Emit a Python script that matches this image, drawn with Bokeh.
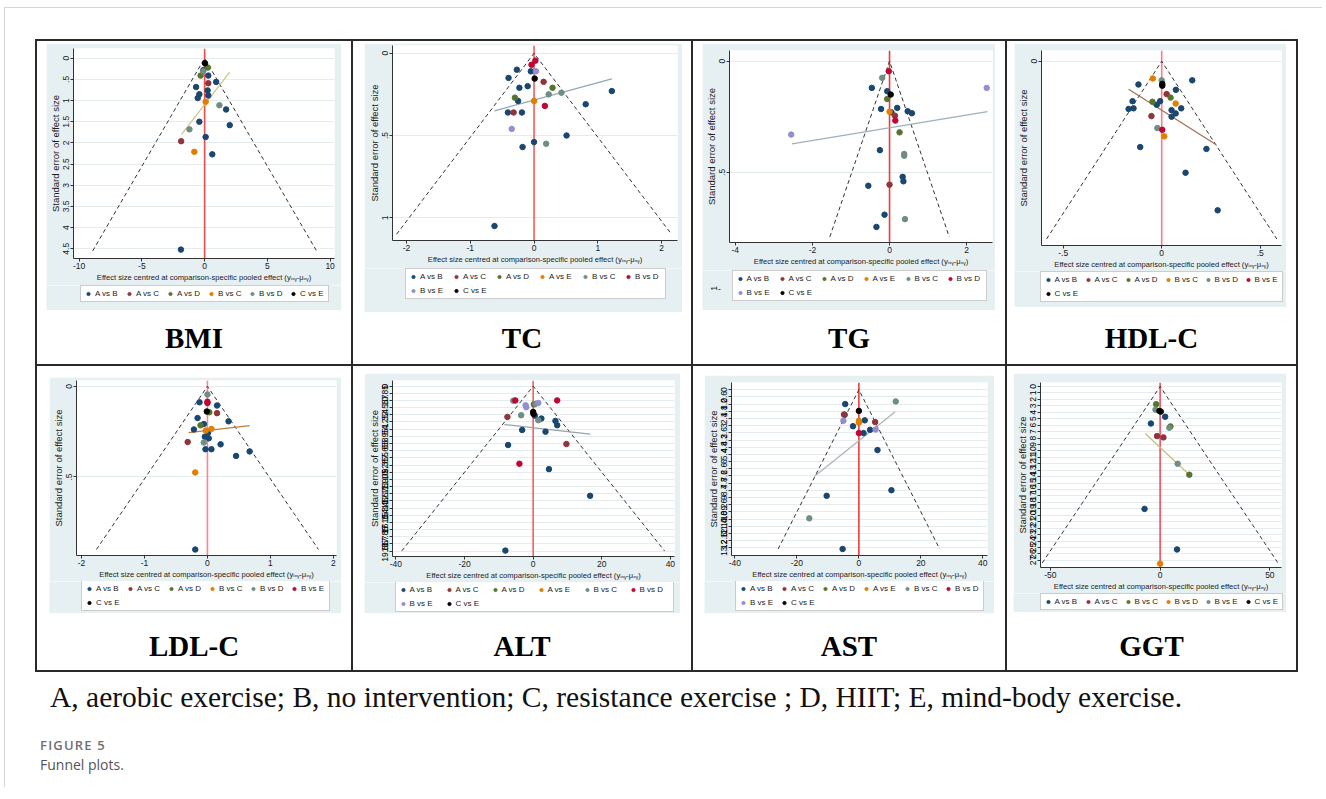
import math
from bokeh.plotting import figure
from bokeh.models import (Range1d, FixedTicker, Span, Legend, LegendItem, Label,
                          Div, Spacer)
from bokeh.layouts import row, column
from bokeh.embed import file_html
from bokeh.resources import INLINE

# ---------------------------------------------------------------- data
CMP6_BMI = ["A vs B", "A vs C", "A vs D", "B vs C", "B vs D", "C vs E"]
CMP8 = ["A vs B", "A vs C", "A vs D", "A vs E", "B vs C", "B vs D", "B vs E", "C vs E"]
CMP7 = ["A vs B", "A vs C", "A vs D", "B vs C", "B vs D", "B vs E", "C vs E"]
CMP6_GGT = ["A vs B", "A vs C", "B vs C", "B vs D", "B vs E", "C vs E"]

BMI_x = [0.03, 0.26, -0.13, -0.10, -0.32, 0.29, 0.92, 0.29, -0.68, 0.24, -0.42, 0.29,
         -0.55, 0.08, 1.18, 1.71, -0.42, -1.21, 2.00, 0.08, -1.87, -0.82, 0.61, -1.89]
BMI_se = [0.12, 0.22, 0.31, 0.28, 0.41, 0.41, 0.56, 0.59, 0.68, 0.76, 0.85, 0.88,
          0.94, 1.03, 1.11, 1.21, 1.50, 1.68, 1.58, 1.86, 1.96, 2.21, 2.27, 4.52]
BMI_cmp = ["C vs E", "A vs D", "B vs D", "A vs B", "A vs D", "A vs B", "A vs B", "A vs C",
           "A vs B", "A vs B", "A vs B", "A vs B", "A vs B", "B vs C", "B vs D", "A vs B",
           "A vs B", "B vs D", "A vs B", "A vs B", "A vs C", "B vs C", "A vs B", "A vs B"]
BMI_fit_x = [-1.84, 2.00]
BMI_fit_se = [1.80, 0.33]
BMI_se_max = 4.55
BMI_xticks = [-10, -5, 0, 5, 10]
BMI_xlabels = ["-10", "-5", "0", "5", "10"]
BMI_yticks = [0, 0.5, 1, 1.5, 2, 2.5, 3, 3.5, 4, 4.5]
BMI_ylabels = ["0", ".5", "1", "1.5", "2", "2.5", "3", "3.5", "4", "4.5"]

TC_x = [0.02, -0.04, 0.03, -0.27, -0.05, -0.40, 0.01, 0.15, -0.23, -0.10, 0.29, 1.22,
        0.43, 0.23, -0.30, -0.25, 0.00, 0.81, 0.17, -0.41, -0.32, -0.19, -0.35, 0.51,
        0.00, 0.19, -0.18, -0.62]
TC_se = [0.045, 0.07, 0.11, 0.10, 0.11, 0.15, 0.154, 0.174, 0.21, 0.20, 0.21, 0.23,
         0.24, 0.25, 0.27, 0.29, 0.29, 0.31, 0.32, 0.36, 0.36, 0.36, 0.46, 0.50,
         0.54, 0.55, 0.57, 1.05]
TC_cmp = ["B vs D", "B vs D", "B vs E", "A vs B", "A vs B", "A vs B", "C vs E", "A vs C",
          "A vs B", "A vs B", "A vs D", "A vs B", "B vs C", "B vs C", "A vs D", "A vs B",
          "A vs E", "A vs B", "B vs D", "A vs B", "A vs C", "A vs B", "B vs E", "A vs B",
          "A vs B", "B vs C", "A vs B", "A vs B"]
TC_fit_x = [-0.62, 1.22]
TC_fit_se = [0.35, 0.156]
TC_se_max = 1.10
TC_xticks = [-2, -1, 0, 1, 2]
TC_xlabels = ["-2", "-1", "0", "1", "2"]
TC_yticks = [0, 0.5, 1]
TC_ylabels = ["0", ".5", "1"]

TG_x = [-0.02, -0.19, 2.52, -0.46, -0.06, 0.03, -0.06, -0.22, 0.00, 0.20, 0.05, 0.47,
        0.58, 0.14, 0.15, -2.55, 0.26, -0.25, 0.38, 0.38, 0.34, 0.36, -0.55, 0.00,
        -0.13, 0.40, -0.34]
TG_se = [0.045, 0.075, 0.12, 0.12, 0.135, 0.15, 0.17, 0.215, 0.227, 0.21, 0.23, 0.225,
         0.234, 0.245, 0.267, 0.33, 0.32, 0.40, 0.417, 0.425, 0.52, 0.54, 0.56, 0.555,
         0.69, 0.71, 0.745]
TG_cmp = ["B vs D", "B vs C", "B vs E", "A vs B", "A vs B", "C vs E", "A vs D", "A vs B",
          "A vs E", "A vs B", "A vs B", "A vs B", "A vs B", "A vs C", "B vs D", "B vs E",
          "A vs D", "A vs B", "B vs C", "B vs C", "A vs B", "A vs B", "A vs B", "A vs C",
          "A vs B", "B vs C", "A vs B"]
TG_fit_x = [-2.53, 2.54]
TG_fit_se = [0.372, 0.227]
TG_se_max = 0.79
TG_xticks = [-4, -2, 0, 2]
TG_xlabels = ["-4", "-2", "0", "2"]
TG_yticks = [0, 0.5]
TG_ylabels = ["0", ".5"]

HDL_x = [-0.045, 0.000, 0.155, -0.118, 0.003, 0.003, 0.072, 0.025, 0.045, -0.148,
         -0.047, -0.008, -0.025, 0.071, -0.168, -0.143, 0.050, 0.099, 0.071, 0.050,
         -0.052, -0.022, 0.003, 0.013, -0.109, 0.227, 0.121, 0.284]
HDL_se = [0.029, 0.032, 0.032, 0.039, 0.038, 0.041, 0.048, 0.055, 0.061, 0.067,
          0.068, 0.067, 0.073, 0.071, 0.080, 0.079, 0.082, 0.079, 0.0875, 0.093,
          0.092, 0.112, 0.115, 0.126, 0.144, 0.147, 0.187, 0.250]
HDL_cmp = ["B vs C", "B vs D", "A vs B", "A vs B", "C vs E", "C vs E", "A vs B", "A vs C",
           "A vs D", "A vs B", "A vs D", "A vs B", "A vs B", "B vs C", "A vs B", "A vs B",
           "A vs B", "A vs B", "A vs B", "A vs B", "A vs C", "B vs D", "B vs E", "B vs C",
           "A vs B", "A vs B", "A vs B", "A vs B"]
HDL_fit_x = [-0.168, 0.277]
HDL_fit_se = [0.047, 0.140]
HDL_se_max = 0.298
HDL_xticks = [-0.5, 0, 0.5]
HDL_xlabels = ["-.5", "0", ".5"]
HDL_yticks = [0]
HDL_ylabels = ["0"]

LDL_x = [0.000, -0.126, 0.000, 0.000, 0.152, -0.010, 0.030, 0.152, -0.157, 0.335,
         -0.058, -0.110, -0.215, 0.063, -0.026, 0.010, -0.042, 0.021, -0.314, -0.058,
         0.209, -0.031, 0.063, 0.455, 0.670, -0.194, -0.194]
LDL_se = [0.045, 0.088, 0.085, 0.092, 0.106, 0.139, 0.143, 0.148, 0.175, 0.193,
          0.208, 0.215, 0.238, 0.235, 0.244, 0.256, 0.278, 0.287, 0.307, 0.310,
          0.320, 0.347, 0.347, 0.384, 0.359, 0.475, 0.900]
LDL_cmp = ["B vs D", "A vs B", "B vs E", "B vs E", "A vs B", "C vs E", "A vs D", "A vs C",
           "A vs B", "A vs B", "A vs B", "A vs D", "A vs B", "B vs C", "B vs C", "A vs B",
           "A vs B", "A vs B", "A vs C", "B vs D", "A vs B", "A vs B", "A vs B", "A vs B",
           "A vs B", "B vs C", "A vs B"]
LDL_fit_x = [-0.30, 0.67]
LDL_fit_se = [0.255, 0.217]
LDL_se_max = 0.90
LDL_xticks = [-2, -1, 0, 1, 2]
LDL_xlabels = ["-2", "-1", "0", "1", "2"]
LDL_yticks = [0, 0.5]
LDL_ylabels = ["0", ".5"]

ALT_x = [-5.2, -5.8, 7.0, -2.2, -2.0, 0.2, 0.7, 1.5, 0.0, 0.1, 0.5, -7.5, -3.5, 2.4,
         1.5, 6.5, 7.0, -3.2, 3.6, -7.3, 9.7, -4.0, 4.6, 16.6, -8.1]
ALT_se = [1.69, 1.73, 1.69, 2.27, 2.5, 2.16, 2.1, 2.0, 3.06, 3.3, 3.5, 3.65, 3.45, 3.84,
          4.04, 4.12, 4.63, 5.2, 5.4, 6.98, 6.86, 9.2, 9.84, 13.0, 19.5]
ALT_cmp = ["B vs D", "B vs C", "B vs D", "B vs E", "B vs E", "A vs D", "B vs C", "B vs E",
           "C vs E", "C vs E", "A vs B", "A vs C", "B vs C", "A vs B", "B vs C", "A vs B",
           "A vs B", "A vs B", "A vs B", "A vs B", "A vs C", "B vs D", "A vs B", "A vs B",
           "A vs B"]
ALT_fit_x = [-8.4, 16.6]
ALT_fit_se = [4.55, 5.7]
ALT_se_max = 19.55
ALT_xticks = [-40, -20, 0, 20, 40]
ALT_xlabels = ["-40", "-20", "0", "20", "40"]
ALT_yticks = [0, 0.85, 1.7, 2.55, 3.4, 4.25, 5.1, 5.95, 6.8, 7.65, 8.5, 9.35, 10.2,
              11.05, 11.9, 12.75, 13.6, 14.45, 15.3, 16.15, 17.0, 17.85, 18.7, 19.55]

AST_x = [-4.4, 11.9, 0.0, -4.8, -4.6, 1.9, 0.0, 0.0, -5.0, 5.25, -1.9, 3.6, 5.4, 1.5,
         0.0, 6.0, 10.5, -10.4, -16.0, -5.25]
AST_se = [1.2, 0.98, 1.77, 2.07, 2.1, 2.56, 2.6, 2.75, 2.6, 2.7, 3.05, 3.35, 3.32, 3.62,
          3.62, 5.04, 8.39, 8.86, 10.74, 13.3]
AST_cmp = ["A vs B", "B vs C", "C vs E", "A vs C", "A vs B", "A vs B", "A vs E", "A vs E",
           "B vs E", "A vs C", "A vs B", "A vs B", "B vs E", "A vs B", "B vs D", "A vs B",
           "A vs B", "A vs B", "B vs C", "A vs B"]
AST_fit_x = [-14.3, 11.7]
AST_fit_se = [7.22, 1.85]
AST_se_max = 13.3
AST_xticks = [-40, -20, 0, 20, 40]
AST_xlabels = ["-40", "-20", "0", "20", "40"]
AST_yticks = [0, 0.6, 1.2, 1.8, 2.4, 3.0, 3.6, 4.2, 4.8, 5.4, 6.0, 6.6, 7.2, 7.8, 8.4,
              9.0, 9.6, 10.2, 10.8, 11.4, 12.0, 12.6, 13.2]

GGT_x = [-1.8, -2.1, -0.3, 0.3, 2.3, -4.2, 4.2, 4.7, -1.4, 1.5, 8.0, 13.3, -7.1, 7.7, 0.0]
GGT_se = [2.75, 3.6, 3.8, 3.9, 4.7, 5.75, 6.4, 6.2, 7.7, 7.9, 12.0, 13.7, 19.0, 25.3, 27.5]
GGT_cmp = ["B vs C", "B vs E", "C vs E", "C vs E", "A vs B", "A vs B", "B vs E", "B vs C",
           "A vs C", "A vs C", "B vs E", "B vs C", "A vs B", "A vs B", "B vs D"]
GGT_fit_x = [-6.8, 13.3]
GGT_fit_se = [7.3, 13.7]
GGT_se_max = 27.4
GGT_xticks = [-50, 0, 50]
GGT_xlabels = ["-50", "0", "50"]
GGT_yticks = [0, 1, 2, 3, 4, 5, 6, 7, 8, 9, 10, 11, 12, 13, 14, 15, 16, 17, 18, 19, 20,
              21, 22, 23, 24, 25, 26, 27]

PANEL_NAMES = ["BMI", "TC", "TG", "HDL-C", "LDL-C", "ALT", "AST", "GGT"]
CAPTION = "A, aerobic exercise; B, no intervention; C, resistance exercise ; D, HIIT; E, mind-body exercise."
FIG_NUM = "FIGURE 5"
FIG_TITLE = "Funnel plots."
X_TITLE = "Effect size centred at comparison-specific pooled effect (y\u1d62\u2093\u1d67-\u03bc\u2093\u1d67)"
Y_TITLE = "Standard error of effect size"

DATA = {
    "BMI": dict(cmps=CMP6_BMI, x=BMI_x, se=BMI_se, g=BMI_cmp, fx=BMI_fit_x, fse=BMI_fit_se,
                smax=BMI_se_max, xt=BMI_xticks, xl=BMI_xlabels, yt=BMI_yticks, yl=BMI_ylabels),
    "TC": dict(cmps=CMP8, x=TC_x, se=TC_se, g=TC_cmp, fx=TC_fit_x, fse=TC_fit_se,
               smax=TC_se_max, xt=TC_xticks, xl=TC_xlabels, yt=TC_yticks, yl=TC_ylabels),
    "TG": dict(cmps=CMP8, x=TG_x, se=TG_se, g=TG_cmp, fx=TG_fit_x, fse=TG_fit_se,
               smax=TG_se_max, xt=TG_xticks, xl=TG_xlabels, yt=TG_yticks, yl=TG_ylabels),
    "HDL-C": dict(cmps=CMP7, x=HDL_x, se=HDL_se, g=HDL_cmp, fx=HDL_fit_x, fse=HDL_fit_se,
                  smax=HDL_se_max, xt=HDL_xticks, xl=HDL_xlabels, yt=HDL_yticks, yl=HDL_ylabels),
    "LDL-C": dict(cmps=CMP7, x=LDL_x, se=LDL_se, g=LDL_cmp, fx=LDL_fit_x, fse=LDL_fit_se,
                  smax=LDL_se_max, xt=LDL_xticks, xl=LDL_xlabels, yt=LDL_yticks, yl=LDL_ylabels),
    "ALT": dict(cmps=CMP8, x=ALT_x, se=ALT_se, g=ALT_cmp, fx=ALT_fit_x, fse=ALT_fit_se,
                smax=ALT_se_max, xt=ALT_xticks, xl=ALT_xlabels, yt=ALT_yticks, yl=None),
    "AST": dict(cmps=CMP8, x=AST_x, se=AST_se, g=AST_cmp, fx=AST_fit_x, fse=AST_fit_se,
                smax=AST_se_max, xt=AST_xticks, xl=AST_xlabels, yt=AST_yticks, yl=None),
    "GGT": dict(cmps=CMP6_GGT, x=GGT_x, se=GGT_se, g=GGT_cmp, fx=GGT_fit_x, fse=GGT_fit_se,
                smax=GGT_se_max, xt=GGT_xticks, xl=GGT_xlabels, yt=GGT_yticks, yl=None),
}

# ---------------------------------------------------------------- styles / layout
PAL = ["#1a476f", "#90353b", "#55752f", "#e37e00", "#6e8e84", "#c10534", "#938dd2"]
BLUE = "#e6eff1"
AXC = "#333333"
FONT = "Liberation Sans"

# w,h: graph size; left/top: offset inside the cell; b: (L,T,R,B) borders around frame
# lg: gap frame-bottom -> legend top; lt: legend offset in its strip; lw: legend label width
LAY = {
    "BMI":   dict(w=295, h=267, left=9,  top=2,  b=(27, 5, 7, 52),  xr=(-10.45, 10.35), yr=(-0.23, 4.73),
                  fit="#cdc78a", red="#f24c4c", lw=25, lg=29, lt=2, one=False),
    "TC":    dict(w=318, h=269, left=11, top=2,  b=(28, 2, 5, 72),  xr=(-2.22, 2.25), yr=(-0.047, 1.138),
                  fit="#8ea7b6", red="#f45a5a", lw=27, lg=30, lt=2, one=False),
    "TG":    dict(w=293, h=267, left=9,  top=2,  b=(22, 7, 3, 68),  xr=(-4.15, 2.67), yr=(-0.048, 0.815),
                  fit="#a0b0ba", red="#ee3b3b", lw=26, lg=30, lt=2, one=True),
    "HDL-C": dict(w=272, h=264, left=7,  top=2,  b=(25, 7, 5, 60),  xr=(-0.61, 0.608), yr=(-0.018, 0.309),
                  fit="#a2715b", red="#ff7890", lw=24, lg=26, lt=2, one=False),
    "LDL-C": dict(w=292, h=236, left=12, top=11, b=(24, 3, 5, 55),  xr=(-2.08, 2.05), yr=(-0.032, 0.933),
                  fit="#c47c3c", red="#ff8096", lw=25, lg=25, lt=1, one=False),
    "ALT":   dict(w=316, h=240, left=11, top=7,  b=(28, 7, 6, 55),  xr=(-41.0, 41.2), yr=(-0.67, 20.2),
                  fit="#90a4b0", red="#f46060", lw=30, lg=26, lt=1, one=False),
    "AST":   dict(w=290, h=238, left=11, top=9,  b=(26, 7, 7, 55),  xr=(-41.1, 41.5), yr=(-0.6, 13.84),
                  fit="#b0b4b6", red="#f03a3a", lw=25, lg=25, lt=1, one=False),
    "GGT":   dict(w=273, h=239, left=6,  top=7,  b=(26, 9, 5, 45),  xr=(-54.5, 55.3), yr=(-0.62, 28.1),
                  fit="#c8c07c", red="#f05060", lw=24, lg=28, lt=2, one=False),
}
LEG_GW, LEG_STANDOFF, LEG_SPACING, LEG_PAD, LEG_ITEM_H = 8, 3, 5, 3, 9


def style_axes(p):
    for ax in (p.xaxis[0], p.yaxis[0]):
        ax.axis_line_color = AXC
        ax.major_tick_line_color = AXC
        ax.minor_tick_line_color = None
        ax.major_tick_out = 3
        ax.major_tick_in = 0
        ax.major_label_text_font = FONT
        ax.major_label_text_font_size = "8.5px"
        ax.major_label_text_color = "#1a1a1a"
        ax.major_label_standoff = 1
        ax.axis_label_text_font = FONT
        ax.axis_label_text_font_style = "normal"
        ax.axis_label_text_color = "#222222"
        ax.axis_label_standoff = 1


def colour_of(i, n):
    return "#000000" if i == n - 1 else PAL[i]


def make_panel(name):
    d = DATA[name]
    L = LAY[name]
    bl, bt, br, bb = L["b"]
    ax_h = L["lg"] - 2                 # room for the x axis under the frame
    main_h = L["h"] - bb + ax_h
    leg_strip_h = L["h"] - main_h

    # ---------------- funnel plot
    p = figure(width=L["w"], height=main_h,
               x_range=Range1d(*L["xr"]), y_range=Range1d(L["yr"][1], L["yr"][0]),
               output_backend="svg", toolbar_location=None,
               min_border_left=bl, min_border_top=bt, min_border_right=br, min_border_bottom=ax_h)
    p.frame_align = False
    p.border_fill_color = BLUE
    p.background_fill_color = "white"
    p.outline_line_color = None
    p.xgrid.visible = False
    p.ygrid.ticker = FixedTicker(ticks=d["yt"])
    p.ygrid.grid_line_color = "#e4ecef"
    style_axes(p)

    xa = p.xaxis[0]
    xa.ticker = FixedTicker(ticks=d["xt"])
    xa.major_label_overrides = dict(zip(d["xt"], d["xl"]))
    xa.axis_label = X_TITLE
    xa.axis_label_text_font_size = "7.6px"

    ya = p.yaxis[0]
    ya.ticker = FixedTicker(ticks=d["yt"])
    if d["yl"] is not None:
        ya.major_label_overrides = dict(zip(d["yt"], d["yl"]))
    else:
        ya.major_label_text_color = "#000000"
    ya.major_label_orientation = "vertical"
    ya.axis_label = Y_TITLE
    ya.axis_label_text_font_size = "9.5px"
    ya.axis_label_standoff = 0

    p.add_layout(Span(location=0, dimension="height", line_color=L["red"],
                      line_width=1.6, level="underlay"))
    smax = d["smax"]
    p.line([-1.96 * smax, 0, 1.96 * smax], [smax, 0, smax],
           line_color="#333333", line_dash="4 3", line_width=1)
    p.line(d["fx"], d["fse"], line_color=L["fit"], line_width=1.3)

    n = len(d["cmps"])
    for i, c in enumerate(d["cmps"]):
        col = colour_of(i, n)
        xs = [x for x, g in zip(d["x"], d["g"]) if g == c]
        ys = [s for s, g in zip(d["se"], d["g"]) if g == c]
        p.scatter(xs, ys, size=5.5, marker="circle", fill_color=col, line_color=col)

    # ---------------- legend strip (same graph region colour)
    lf = figure(width=L["w"], height=leg_strip_h, x_range=Range1d(0, 1), y_range=Range1d(0, 1),
                output_backend="svg", toolbar_location=None,
                x_axis_location=None, y_axis_location=None,
                min_border_left=0, min_border_right=0, min_border_top=0, min_border_bottom=0)
    lf.frame_align = False
    lf.border_fill_color = BLUE
    lf.background_fill_color = BLUE
    lf.outline_line_color = None
    lf.grid.visible = False
    items = []
    for i, c in enumerate(d["cmps"]):
        col = colour_of(i, n)
        # hidden proxy renderer: only used to draw the legend swatch
        r = lf.scatter([0], [0], size=6, marker="circle", fill_color=col, line_color=col,
                       visible=False)
        items.append(LegendItem(label=c, renderers=[r]))
    ncol = min(6, n)
    nrow = (n + ncol - 1) // ncol
    item_w = LEG_GW + LEG_STANDOFF + L["lw"]
    leg_w = 2 * LEG_PAD + ncol * item_w + (ncol - 1) * LEG_SPACING
    leg_h = 2 * LEG_PAD + nrow * LEG_ITEM_H + (nrow - 1) * LEG_SPACING
    frame_w = L["w"] - bl - br
    vx = bl + (frame_w - leg_w) / 2.0
    vy = leg_strip_h - L["lt"] - leg_h
    leg = Legend(items=items, orientation="horizontal", ncols=ncol, location=(vx, vy),
                 label_text_font=FONT, label_text_font_size="8px", label_text_color="#1a1a1a",
                 label_height=LEG_ITEM_H, label_width=L["lw"], glyph_width=LEG_GW,
                 glyph_height=LEG_ITEM_H, label_standoff=LEG_STANDOFF, spacing=LEG_SPACING,
                 padding=LEG_PAD, margin=0,
                 border_line_color="#9a9a9a", border_line_width=1,
                 background_fill_color="white", background_fill_alpha=1.0,
                 inactive_fill_alpha=0.0)
    lf.add_layout(leg, "center")

    if L["one"]:
        # stray y-axis tick "1" that shows below the axis in the original image
        lf.add_layout(Label(x=bl - 11, x_units="screen", y=leg_strip_h - 18, y_units="screen",
                            text="1", angle=math.pi / 2, text_font=FONT, text_font_size="8.5px",
                            text_align="center", text_baseline="middle", text_color="#1a1a1a"))
        lf.add_layout(Label(x=bl - 5, x_units="screen", y=leg_strip_h - 18, y_units="screen",
                            text="-", text_font=FONT, text_font_size="8.5px",
                            text_align="center", text_baseline="middle", text_color="#1a1a1a"))
    return column(p, lf)


def bar(w, h, color):
    return Div(text="", width=w, height=h, margin=0, styles={"background-color": color})


def make_cell(name, cw, ch, label_top):
    L = LAY[name]
    graph = make_panel(name)
    kids = []
    if L["top"] > 0:
        kids.append(Spacer(width=cw, height=L["top"]))
    rest_w = cw - L["left"] - L["w"]
    rk = [Spacer(width=L["left"], height=L["h"]), graph]
    if rest_w > 0:
        rk.append(Spacer(width=rest_w, height=L["h"]))
    kids.append(row(*rk))
    gap = label_top - L["top"] - L["h"]
    if gap > 0:
        kids.append(Spacer(width=cw, height=gap))
    kids.append(Div(text=(f'<div style="width:{cw}px;text-align:center;font-family:\'Liberation Serif\';'
                          f'font-size:29px;font-weight:bold;line-height:36px;color:#000;">{name}</div>'),
                    width=cw, height=36, margin=0))
    tail = ch - label_top - 36
    if tail > 0:
        kids.append(Spacer(width=cw, height=tail))
    return column(*kids)


LINE = "#2a2a2a"
CELL_W = [314, 338, 312, 289]
ROW_H = [323, 304]
LABEL_TOP = [279, 262]
TABLE_W = sum(CELL_W) + 2 * 5

rows = []
for r_i, names in enumerate([PANEL_NAMES[:4], PANEL_NAMES[4:]]):
    kids = [bar(2, ROW_H[r_i], LINE)]
    for c_i, nm in enumerate(names):
        kids.append(make_cell(nm, CELL_W[c_i], ROW_H[r_i], LABEL_TOP[r_i]))
        kids.append(bar(2, ROW_H[r_i], LINE))
    rows.append(row(*kids))

table = column(bar(TABLE_W, 2, LINE), rows[0], bar(TABLE_W, 2, LINE), rows[1], bar(TABLE_W, 2, LINE))

caption = Div(text=(f'<div style="font-family:\'Liberation Serif\';font-size:29.5px;line-height:32px;'
                    f'white-space:nowrap;color:#111;">{CAPTION}</div>'),
              width=1260, height=32, margin=0)
fignum = Div(text=(f'<div style="font-family:\'Open Sans\';font-size:13px;font-weight:600;line-height:16px;'
                   f'letter-spacing:1.2px;color:#707070;white-space:nowrap;">{FIG_NUM}</div>'),
             width=200, height=16, margin=0)
figtitle = Div(text=(f'<div style="font-family:\'Open Sans\';font-size:14px;line-height:20px;'
                     f'color:#555555;white-space:nowrap;">{FIG_TITLE}</div>'),
               width=300, height=20, margin=0)

# page origin is (0,0); grey page frame: top line at y=7, left line at x=4
content = column(
    Spacer(width=1300, height=31),
    row(Spacer(width=30, height=633), table),
    Spacer(width=10, height=9),
    row(Spacer(width=45, height=32), caption),
    Spacer(width=10, height=24),
    row(Spacer(width=35, height=16), fignum),
    Spacer(width=10, height=2),
    row(Spacer(width=35, height=20), figtitle),
)

GREY = "#d6d6d6"
root = column(
    Spacer(width=1320, height=7),
    row(Spacer(width=4, height=780),
        column(bar(1318, 1, GREY), row(bar(1, 779, GREY), content))),
)

open("out.html", "w").write(file_html(root, INLINE))
